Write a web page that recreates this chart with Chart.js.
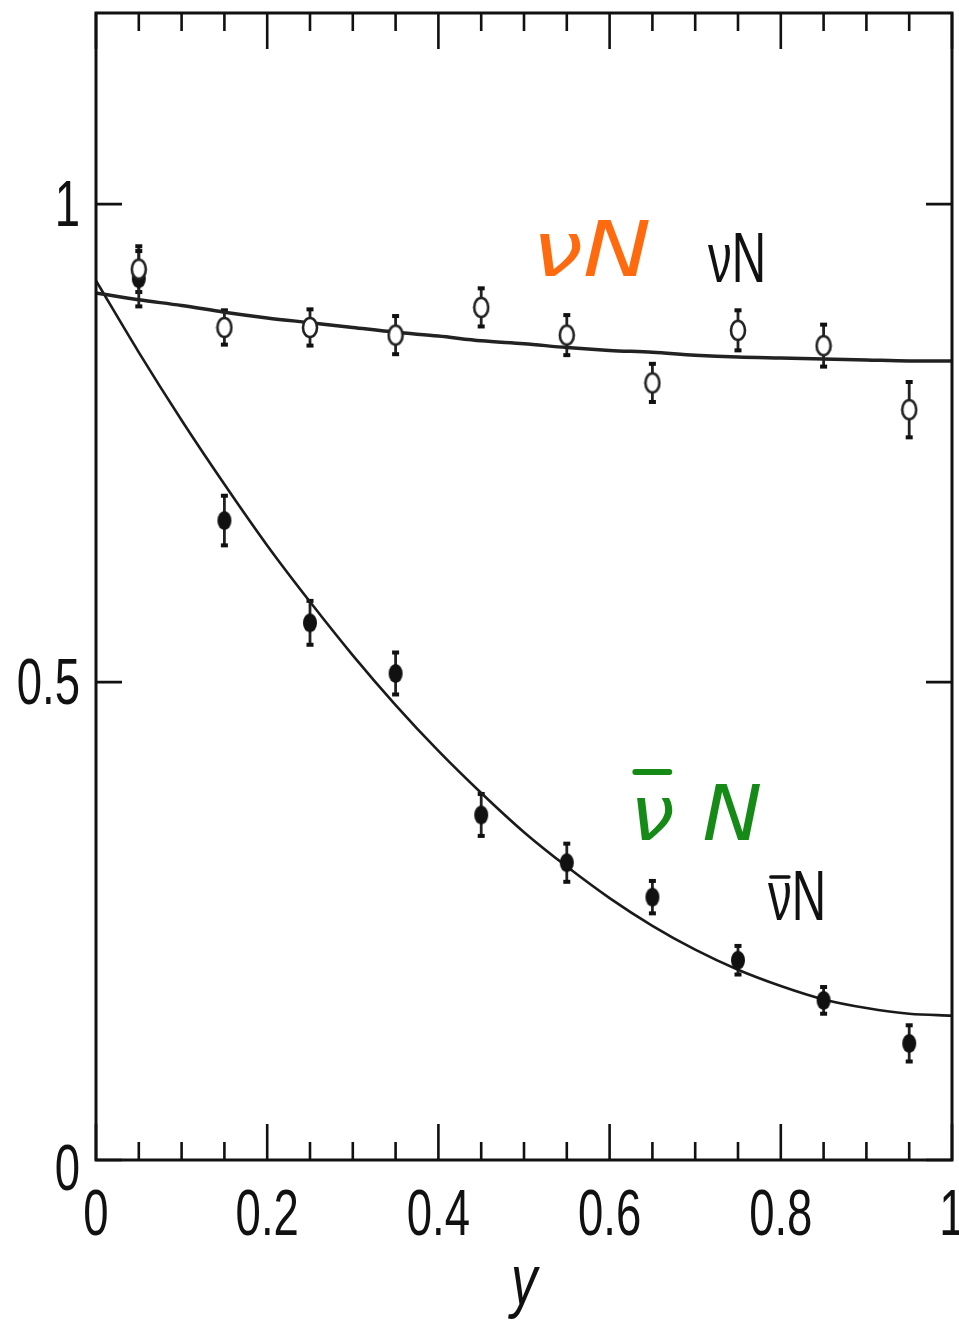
<!DOCTYPE html>
<html>
<head>
<meta charset="utf-8">
<script src="https://cdn.jsdelivr.net/npm/chart.js@4.4.1/dist/chart.umd.min.js"></script>
<style>
  html, body { margin: 0; padding: 0; background: #ffffff; }
  #plot { display: block; }
</style>
</head>
<body>
<canvas id="plot" width="959" height="1324"></canvas>
<script>
// y bins (x axis) and measured ratios
const yBins = [0.05, 0.15, 0.25, 0.35, 0.45, 0.55, 0.65, 0.75, 0.85, 0.95];
const nuN = [0.932, 0.871, 0.871, 0.863, 0.892, 0.863, 0.813, 0.868, 0.852, 0.785];
const nuNErr = [0.025, 0.019, 0.020, 0.021, 0.021, 0.022, 0.021, 0.022, 0.023, 0.030];
const nubarN = [0.922, 0.669, 0.562, 0.509, 0.361, 0.311, 0.275, 0.209, 0.167, 0.122];
const nubarNErr = [0.030, 0.027, 0.024, 0.023, 0.023, 0.021, 0.018, 0.016, 0.015, 0.020];

// fitted curves
const fitX = [0, 0.05, 0.1, 0.15, 0.2, 0.25, 0.3, 0.35, 0.4, 0.45, 0.5,
              0.55, 0.6, 0.65, 0.7, 0.75, 0.8, 0.85, 0.9, 0.95, 1.0];
const nuFit = [0.907, 0.900, 0.894, 0.887, 0.881, 0.876, 0.871, 0.866, 0.862, 0.857, 0.854,
               0.850, 0.847, 0.845, 0.842, 0.840, 0.839, 0.838, 0.837, 0.836, 0.836];
const nubarFit = [0.920, 0.845, 0.774, 0.707, 0.643, 0.584, 0.528, 0.476, 0.428, 0.384, 0.343,
                  0.307, 0.274, 0.245, 0.220, 0.199, 0.182, 0.168, 0.159, 0.153, 0.151];

// ticks
const xTickLabels = ['0', '0.2', '0.4', '0.6', '0.8', '1'];
const xMinorTicks = [0.05, 0.1, 0.15, 0.25, 0.3, 0.35, 0.45, 0.5, 0.55, 0.65, 0.7, 0.75, 0.85, 0.9, 0.95];
const yTickLabels = ['0', '0.5', '1'];

const toPts = (xs, ys) => xs.map((x, i) => ({ x: x, y: ys[i] }));

// ellipse markers (the original figure is stretched vertically)
function makeMarker(filled) {
  const c = document.createElement('canvas');
  c.width = 18; c.height = 23;
  const g = c.getContext('2d');
  g.beginPath();
  g.ellipse(9, 11.5, 7, 9.5, 0, 0, Math.PI * 2);
  if (filled) {
    g.fillStyle = '#111';
    g.fill();
  } else {
    g.fillStyle = '#fff';
    g.fill();
    g.lineWidth = 2.6;
    g.strokeStyle = '#222';
    g.stroke();
  }
  return c;
}
const openMarker = makeMarker(false);
const fullMarker = makeMarker(true);

// squeezed text, like the narrow lettering of the source; returns drawn width
function squeezedText(ctx, text, x, y, font, sx, align, color) {
  ctx.save();
  ctx.font = font;
  ctx.fillStyle = color || '#111';
  ctx.textBaseline = 'alphabetic';
  const w = ctx.measureText(text).width * sx;
  let left = x;
  if (align === 'center') left = x - w / 2;
  if (align === 'right') left = x - w;
  ctx.translate(left, y);
  ctx.scale(sx, 1);
  ctx.textAlign = 'left';
  ctx.fillText(text, 0, 0);
  ctx.restore();
  return w;
}

// "ν" with a bar over it, then the rest
function barredText(ctx, first, rest, x, y, font, sx, color, barY, barW, gap) {
  const w1 = squeezedText(ctx, first, x, y, font, sx, 'left', color);
  ctx.save();
  ctx.strokeStyle = color;
  ctx.lineWidth = barW;
  ctx.lineCap = 'round';
  ctx.beginPath();
  ctx.moveTo(x + w1 * 0.12, barY);
  ctx.lineTo(x + w1 * 0.88, barY);
  ctx.stroke();
  ctx.restore();
  squeezedText(ctx, rest, x + w1 + gap, y, font, sx, 'left', color);
}

const errorBars = {
  id: 'errorBars',
  beforeDatasetsDraw(chart) {
    const ctx = chart.ctx;
    const xs = chart.scales.x, ys = chart.scales.y;
    ctx.save();
    ctx.strokeStyle = '#222';
    ctx.fillStyle = '#111';
    ctx.lineWidth = 2.8;
    [[nuN, nuNErr], [nubarN, nubarNErr]].forEach(([vals, errs]) => {
      yBins.forEach((b, i) => {
        const px = xs.getPixelForValue(b);
        const top = ys.getPixelForValue(vals[i] + errs[i]);
        const bot = ys.getPixelForValue(vals[i] - errs[i]);
        ctx.beginPath();
        ctx.moveTo(px, top);
        ctx.lineTo(px, bot);
        ctx.stroke();
        ctx.fillRect(px - 3.5, top - 1, 7, 4);
        ctx.fillRect(px - 3.5, bot - 3, 7, 4);
      });
    });
    ctx.restore();
  }
};

const frame = {
  id: 'frame',
  afterDatasetsDraw(chart) {
    const ctx = chart.ctx;
    const a = chart.chartArea;
    const xs = chart.scales.x, ys = chart.scales.y;
    ctx.save();
    ctx.strokeStyle = '#111';
    ctx.lineWidth = 3;
    ctx.strokeRect(a.left, a.top, a.right - a.left, a.bottom - a.top);

    ctx.lineWidth = 2.6;
    ctx.beginPath();
    xTickLabels.forEach(t => {
      const px = xs.getPixelForValue(parseFloat(t));
      ctx.moveTo(px, a.bottom); ctx.lineTo(px, a.bottom - 36);
      ctx.moveTo(px, a.top); ctx.lineTo(px, a.top + 36);
    });
    xMinorTicks.forEach(t => {
      const px = xs.getPixelForValue(t);
      ctx.moveTo(px, a.bottom); ctx.lineTo(px, a.bottom - 18);
      ctx.moveTo(px, a.top); ctx.lineTo(px, a.top + 18);
    });
    yTickLabels.forEach(t => {
      const py = ys.getPixelForValue(parseFloat(t));
      ctx.moveTo(a.left, py); ctx.lineTo(a.left + 26, py);
      ctx.moveTo(a.right, py); ctx.lineTo(a.right - 26, py);
    });
    ctx.stroke();
    ctx.restore();

    const tickFont = '65px "Liberation Sans", Arial, sans-serif';
    xTickLabels.forEach(t => {
      const px = xs.getPixelForValue(parseFloat(t));
      squeezedText(ctx, t, px, a.bottom + 75, tickFont, 0.7, 'center');
    });
    yTickLabels.forEach(t => {
      const v = parseFloat(t);
      const py = ys.getPixelForValue(v) + (v === 0 ? 30 : 22);
      squeezedText(ctx, t, a.left - 16, py, tickFont, 0.7, 'right');
    });
    squeezedText(ctx, 'y', (a.left + a.right) / 2, 1304,
      'italic 70px "Liberation Sans", Arial, sans-serif', 0.75, 'center');

    // series labels
    const lblFont = '70px "Liberation Sans", Arial, sans-serif';
    squeezedText(ctx, 'νN', 708, 282, lblFont, 0.68, 'left');
    barredText(ctx, 'ν', 'N', 768, 920, lblFont, 0.68, '#111', 877, 3.5, 0);

    // handwritten notes
    const handFont = 'italic 76px "DejaVu Sans", sans-serif';
    squeezedText(ctx, 'νN', 532, 276, handFont, 1.2, 'left', '#ff6a0f');
    barredText(ctx, 'ν', 'N', 630, 840, handFont, 1.05, '#168a16', 772, 6, 28);
  }
};

new Chart(document.getElementById('plot'), {
  type: 'scatter',
  data: {
    datasets: [
      {
        label: 'νN fit',
        data: toPts(fitX, nuFit),
        showLine: true,
        borderColor: '#222',
        borderWidth: 3.5,
        pointRadius: 0,
        cubicInterpolationMode: 'monotone',
        order: 3
      },
      {
        label: 'ν̄N fit',
        data: toPts(fitX, nubarFit),
        showLine: true,
        borderColor: '#1a1a1a',
        borderWidth: 2.6,
        pointRadius: 0,
        cubicInterpolationMode: 'monotone',
        order: 3
      },
      {
        label: 'ν̄N',
        data: toPts(yBins, nubarN),
        pointStyle: fullMarker,
        order: 2
      },
      {
        label: 'νN',
        data: toPts(yBins, nuN),
        pointStyle: openMarker,
        order: 1
      }
    ]
  },
  options: {
    responsive: false,
    animation: false,
    layout: { padding: { left: 96, right: 7, top: 13, bottom: 164 } },
    plugins: { legend: { display: false }, tooltip: { enabled: false } },
    scales: {
      x: { type: 'linear', min: 0, max: 1, display: false },
      y: { type: 'linear', min: 0, max: 1.2, display: false }
    }
  },
  plugins: [errorBars, frame]
});
</script>
</body>
</html>
